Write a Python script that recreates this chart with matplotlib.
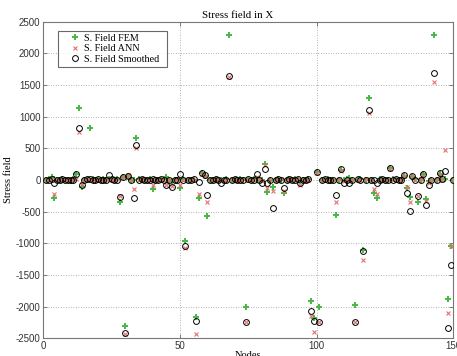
import matplotlib
matplotlib.use("Agg")
import matplotlib.pyplot as plt
import numpy as np

nodes = list(range(1, 151))

fem = [0, 10, 55, -290, 5, -5, 10, 0, 5, -10,
       15, 95, 1140, -110, 5, 0, 820, 10, -5, 5,
       0, 10, -5, 20, 5, 0, 15, -340, 55, -2300,
       70, 5, 0, 665, 10, -5, 5, 0, 10, -145,
       5, 0, -5, 10, 55, 0, -10, 5, 0, -130,
       10, -960, 5, 0, -5, -2165, -290, 115, 70, -565,
       5, 0, 10, -5, 0, 5, 10, 2285, 0, -5,
       5, 10, 0, -2000, 5, -5, 10, 20, 0, 0,
       255, -185, 5, -105, 0, 10, -5, -210, 5, 20,
       0, 10, -5, -20, 5, 0, 10, -1915, -2175, 120,
       -2000, 5, 0, 10, -5, 5, -555, 0, 165, 0,
       10, 30, 5, -1980, 0, 10, -1100, 5, 1300, 0,
       -205, -290, 10, 5, -5, 0, 185, 10, 0, 5,
       -5, 60, -125, -265, 40, 10, -340, 5, 95, -300,
       -20, 5, 2295, 0, 100, 10, 20, -1885, -1050, 0]

ann = [0, 5, 10, -220, 0, 5, -5, 10, 0, 5,
       10, 20, 755, -60, 0, 5, 10, -5, 5, 0,
       5, -5, 10, 10, 0, 5, 10, -255, 50, -2430,
       75, 0, -145, 500, 5, 0, 10, -5, 5, -80,
       0, 10, 5, -5, -85, 5, -100, 0, 10, -80,
       5, -1080, 0, 10, 5, -2430, -220, 100, 60, -350,
       0, 5, -5, 10, -20, 0, 5, 1630, 10, 0,
       -5, 5, 10, -2240, 0, 5, -5, 40, 10, -10,
       240, -130, 0, -175, 5, -5, 10, -180, 0, 30,
       5, -5, 10, -80, 0, 5, -5, -2145, -2400, 110,
       -2240, 0, 10, 5, 0, -5, -350, 10, 140, -20,
       5, -10, 0, -2240, 5, -5, -1270, 10, 1055, 5,
       -147, -225, 0, 10, 5, -5, 175, 0, 10, -5,
       5, 70, -110, -340, 60, 0, -260, 10, 70, -330,
       -50, 0, 1540, 10, 80, 0, 470, -2095, -1050, 10]

smoothed = [0, 5, 10, -40, 5, 0, 10, -5, 5, 0,
            5, 100, 825, -80, 5, 10, 15, 0, 5, 10,
            -5, 5, 0, 80, 10, 0, 5, -265, 45, -2420,
            60, 5, -290, 555, 0, 10, 5, -5, 0, 10,
            5, -5, 10, 0, -80, 5, -110, 0, 5, 90,
            0, -1040, 5, 0, 10, -2225, -30, 110, 75, -240,
            5, 0, 10, -5, -55, 5, 0, 1635, 5, 10,
            0, 5, -5, -2240, 10, 0, 5, 95, 5, -45,
            175, -45, 5, -445, 0, 10, 5, -120, 0, 10,
            5, 0, 10, -55, 5, -5, 10, -2075, -2230, 120,
            -2240, 5, 10, 0, 5, -5, -240, 5, 175, -55,
            5, -55, 0, -2240, 10, 5, -1120, 0, 1110, 5,
            0, -45, 5, 10, 0, 5, 185, -5, 10, 0,
            5, 80, -200, -490, 70, 5, -260, 0, 90, -395,
            -80, 5, 1695, 0, 105, 10, 145, -2330, -1345, 0]

labels = ["S. Field FEM", "S. Field ANN", "S. Field Smoothed"]
title = "Stress field in X"
xlabel = "Nodes"
ylabel = "Stress field"
xticks = [0, 50, 100, 150]
yticks = [-2500, -2000, -1500, -1000, -500, 0, 500, 1000, 1500, 2000, 2500]

serif = ["Liberation Serif", "DejaVu Serif"]
tickfont = ["Liberation Sans Narrow", "Liberation Sans", "DejaVu Sans"]

fig = plt.figure(figsize=(4.57, 3.56), dpi=100)
ax = fig.add_axes([43.3 / 457, 1 - 338.3 / 356, 410 / 457, 316.6 / 356])

ax.plot(nodes, fem, linestyle="none", marker="+", markersize=4.5, mew=1.4,
        color="#45b845", label=labels[0], zorder=3)
ax.plot(nodes, ann, linestyle="none", marker="x", markersize=3, mew=0.8,
        color="#e87070", label=labels[1], zorder=4)
ax.plot(nodes, smoothed, linestyle="none", marker="o", markersize=4.2, mew=0.7,
        markerfacecolor="none", markeredgecolor="black", label=labels[2], zorder=5)

ax.set_xlim(0, 150)
ax.set_ylim(-2500, 2500)
ax.set_xticks(xticks)
ax.set_yticks(yticks)
ax.set_xticklabels([str(t) for t in xticks], family=tickfont, fontsize=7, color="#333333")
ax.set_yticklabels([str(t) for t in yticks], family=tickfont, fontsize=7, color="#333333")
ax.tick_params(direction="in", length=3, width=0.6, color="#666666",
               top=True, right=True, pad=2)
ax.grid(True, linestyle=(0, (1, 2)), color="#999999", linewidth=0.6)
for s in ax.spines.values():
    s.set_color("#777777")
    s.set_linewidth(0.8)

ax.set_title(title, family=serif, fontsize=7.8, pad=3, x=0.475)
ax.set_xlabel(xlabel, family=serif, fontsize=7.5, labelpad=0)
ax.set_ylabel(ylabel, family=serif, fontsize=7.5, labelpad=2)

leg = ax.legend(loc="upper left", bbox_to_anchor=(0.036, 0.972),
                labels=[labels[0] + "  ", labels[1] + "  ", labels[2] + "  "],
                handles=ax.get_lines(),
                prop={"family": serif, "size": 7.3}, frameon=True, fancybox=False,
                borderpad=0.3, labelspacing=0.15, handlelength=2.7,
                handletextpad=-0.45, borderaxespad=0, markerscale=1.0)
leg.get_frame().set_edgecolor("#444444")
leg.get_frame().set_linewidth(0.8)

fig.savefig("out.png", dpi=100)
